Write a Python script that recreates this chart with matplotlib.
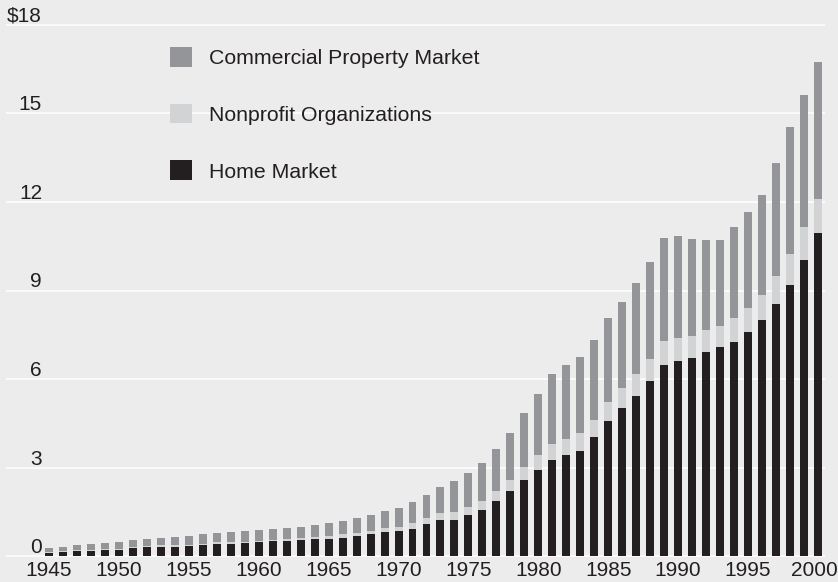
#!/usr/bin/env python3
# -*- coding: utf-8 -*-
"""
Mortgage debt outstanding by sector, 1945-2000 (stacked bars)
"""

import numpy as np
import matplotlib
matplotlib.use('Agg')
import matplotlib.pyplot as plt
import matplotlib.transforms as mtransforms
from matplotlib.patches import Patch

plt.rcParams['font.family'] = ['Liberation Sans', 'DejaVu Sans']

# Years on the x axis
years = np.arange(1945, 2001)

# Trillions of dollars, by sector
home_market = [
    0.13, 0.16, 0.17, 0.19, 0.22, 0.22, 0.29, 0.30, 0.33, 0.33,
    0.36, 0.39, 0.43, 0.43, 0.45, 0.48, 0.52, 0.52, 0.55, 0.59,
    0.59, 0.62, 0.69, 0.75, 0.82, 0.86, 0.92, 1.09, 1.23, 1.23,
    1.40, 1.57, 1.87, 2.21, 2.58, 2.92, 3.26, 3.43, 3.57, 4.03,
    4.58, 5.02, 5.43, 5.93, 6.48, 6.61, 6.71, 6.92, 7.09, 7.26,
    7.60, 8.01, 8.54, 9.20, 10.03, 10.96,
]
nonprofit = [
    0.03, 0.03, 0.03, 0.03, 0.03, 0.03, 0.04, 0.04, 0.04, 0.04,
    0.04, 0.04, 0.04, 0.04, 0.04, 0.04, 0.04, 0.07, 0.07, 0.06,
    0.10, 0.13, 0.10, 0.11, 0.14, 0.13, 0.21, 0.21, 0.24, 0.27,
    0.27, 0.30, 0.34, 0.37, 0.44, 0.51, 0.54, 0.54, 0.61, 0.59,
    0.65, 0.68, 0.74, 0.75, 0.81, 0.78, 0.75, 0.74, 0.71, 0.82,
    0.81, 0.84, 0.96, 1.04, 1.12, 1.14,
]
commercial = [
    0.13, 0.14, 0.19, 0.21, 0.21, 0.24, 0.23, 0.26, 0.26, 0.29,
    0.30, 0.34, 0.33, 0.36, 0.38, 0.37, 0.36, 0.37, 0.37, 0.41,
    0.44, 0.45, 0.51, 0.54, 0.57, 0.65, 0.71, 0.78, 0.88, 1.05,
    1.15, 1.29, 1.42, 1.60, 1.83, 2.07, 2.37, 2.51, 2.57, 2.70,
    2.84, 2.91, 3.09, 3.29, 3.49, 3.46, 3.29, 3.05, 2.91, 3.07,
    3.25, 3.39, 3.82, 4.29, 4.47, 4.64,
]

y_ticks = [0, 3, 6, 9, 12, 15, 18]
y_labels = ['0', '3', '6', '9', '12', '15', '$18']
x_ticks = list(range(1945, 2001, 5))

BG = '#ececec'
C_HOME = '#231f20'
C_NONPROFIT = '#d1d3d4'
C_COMMERCIAL = '#939598'
TEXT = '#231f20'

W, H = 838, 582
fig = plt.figure(figsize=(W / 100, H / 100), dpi=100, facecolor=BG)
ax = fig.add_axes([6 / W, 1 - 559.3 / H, 819 / W, (559.3 - 21.7) / H])
ax.set_facecolor(BG)

home = np.array(home_market)
nonp = np.array(nonprofit)
comm = np.array(commercial)

width = 0.57
ax.bar(years, home, width=width, color=C_HOME, zorder=3)
ax.bar(years, nonp, width=width, bottom=home, color=C_NONPROFIT, zorder=3)
ax.bar(years, comm, width=width, bottom=home + nonp, color=C_COMMERCIAL, zorder=3)

ax.set_xlim(1945 - 43 / 14, 2000.5)
ax.set_ylim(-0.1, 18.1)

# 白色水平网格线
for v in y_ticks:
    ax.axhline(v, color='white', linewidth=1.1, zorder=1)

# y 轴标签写在网格线上方
x_lab = (42 - 6) / 819
for v, lab in zip(y_ticks, y_labels):
    ax.annotate(lab, xy=(x_lab, v), xycoords=ax.get_yaxis_transform(),
                xytext=(0, 2.2), textcoords='offset points',
                ha='right', va='baseline', fontsize=15, color=TEXT)

ax.set_yticks([])
ax.set_xticks(x_ticks)
ax.set_xticklabels([str(x) for x in x_ticks], fontsize=15, color=TEXT)
ax.tick_params(axis='x', length=0, pad=1.5)
for s in ax.spines.values():
    s.set_visible(False)

# 最后一个年份标签稍微左移，避免超出画布
last = ax.get_xticklabels()[-1]
last.set_transform(last.get_transform() +
                   mtransforms.ScaledTranslation(-4 / 100, 0, fig.dpi_scale_trans))

handles = [
    Patch(facecolor=C_COMMERCIAL, label='Commercial Property Market'),
    Patch(facecolor=C_NONPROFIT, label='Nonprofit Organizations'),
    Patch(facecolor=C_HOME, label='Home Market'),
]
fig.legend(handles=handles, loc='upper left',
           bbox_to_anchor=(170 / W, 1 - 47 / H), frameon=False,
           fontsize=15.3, handlelength=1.04, handleheight=1.04,
           handletextpad=0.78, labelspacing=1.68, borderpad=0,
           borderaxespad=0, labelcolor=TEXT)

fig.savefig('out.png', dpi=100, facecolor=BG)
